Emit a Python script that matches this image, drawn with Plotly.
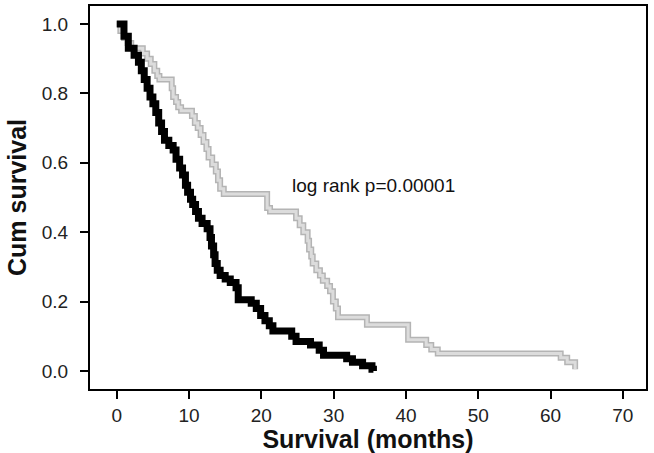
import plotly.graph_objects as go

# Kaplan-Meier step data (time in months, cumulative survival)
black_t = [0, 1.0, 1.6, 2.4, 3.0, 3.4, 3.8, 4.2, 4.6, 5.0, 5.4, 5.8, 6.2, 6.6, 7.2, 7.8,
           8.2, 8.7, 9.1, 9.5, 9.8, 10.2, 10.5, 10.9, 11.3, 11.8, 12.5, 12.9, 13.1, 13.4,
           13.6, 13.9, 14.3, 15.0, 15.7, 16.5, 16.8, 18.6, 19.3, 19.9, 20.5, 21.1, 21.6,
           24.2, 24.8, 26.8, 28.0, 28.6, 31.8, 32.6, 34.0, 35.3, 35.5]
black_s = [1.0, 0.965, 0.93, 0.91, 0.89, 0.865, 0.84, 0.815, 0.79, 0.77, 0.745, 0.715, 0.69,
           0.665, 0.65, 0.637, 0.61, 0.585, 0.565, 0.535, 0.515, 0.495, 0.48, 0.46, 0.44,
           0.425, 0.41, 0.385, 0.36, 0.335, 0.31, 0.29, 0.275, 0.265, 0.255, 0.24, 0.205,
           0.195, 0.18, 0.16, 0.145, 0.13, 0.115, 0.1, 0.085, 0.075, 0.06, 0.045, 0.035,
           0.025, 0.015, 0.005, 0.0]

gray_t = [0, 0.5, 1.0, 1.5, 2.0, 3.6, 4.2, 4.7, 5.2, 5.6, 5.9, 7.6, 7.8, 8.2, 8.5, 8.9,
          10.4, 10.8, 11.2, 11.6, 12.0, 12.4, 12.7, 13.2, 13.7, 14.0, 14.3, 14.8, 20.8,
          21.2, 24.8, 25.3, 25.8, 26.4, 26.6, 26.9, 27.1, 27.6, 28.1, 28.5, 29.1, 29.5,
          29.9, 30.3, 30.6, 34.6, 40.3, 42.8, 43.5, 44.4, 61.4, 62.3, 63.4]
gray_s = [1.0, 0.98, 0.96, 0.945, 0.93, 0.915, 0.9, 0.885, 0.865, 0.85, 0.84, 0.815, 0.79,
          0.775, 0.76, 0.75, 0.735, 0.715, 0.7, 0.68, 0.66, 0.64, 0.615, 0.595, 0.575,
          0.55, 0.525, 0.51, 0.47, 0.46, 0.44, 0.42, 0.4, 0.375, 0.35, 0.33, 0.31, 0.29,
          0.275, 0.26, 0.245, 0.23, 0.2, 0.18, 0.155, 0.133, 0.09, 0.075, 0.062, 0.05,
          0.038, 0.025, 0.005]

x_ticks = [0, 10, 20, 30, 40, 50, 60, 70]
y_ticks = [0.0, 0.2, 0.4, 0.6, 0.8, 1.0]
annotation_text = "log rank p=0.00001"

FONT = "Liberation Sans, Arial, sans-serif"

fig = go.Figure()
# gray curve drawn as outlined light line
fig.add_trace(go.Scatter(x=gray_t, y=gray_s, mode="lines", line=dict(shape="hv", color="#b4b4b4", width=6),
                         showlegend=False, hoverinfo="skip"))
fig.add_trace(go.Scatter(x=gray_t, y=gray_s, mode="lines", line=dict(shape="hv", color="#dcdcdc", width=3),
                         showlegend=False, hoverinfo="skip"))
fig.add_trace(go.Scatter(x=black_t, y=black_s, mode="lines", line=dict(shape="hv", color="#000000", width=7),
                         showlegend=False, hoverinfo="skip"))

fig.add_annotation(x=24, y=0.535, text=annotation_text, showarrow=False, xanchor="left", yanchor="middle",
                   font=dict(family=FONT, size=19, color="#111111"))

axis_common = dict(showline=True, linecolor="black", linewidth=2, mirror=True, ticks="outside",
                   ticklen=8, tickwidth=2, tickcolor="black", showgrid=False, zeroline=False,
                   automargin=False,
                   tickfont=dict(family=FONT, size=19, color="#222222"))

fig.update_xaxes(range=[-3.7, 73.2], tickvals=x_ticks, ticklabelstandoff=0,
                 title=dict(text="<b>Survival (months)</b>", font=dict(family=FONT, size=25, color="#111111"), standoff=2),
                 **axis_common)
fig.update_yaxes(range=[-0.052, 1.052], tickvals=y_ticks, tickformat=".1f", ticklabelstandoff=8,
                 title=dict(text="<b>Cum survival</b>", font=dict(family=FONT, size=25, color="#111111"), standoff=8),
                 **axis_common)

fig.update_layout(width=654, height=453, margin=dict(l=90, r=8, t=6, b=64),
                  plot_bgcolor="white", paper_bgcolor="white")

fig.write_html("out.html", config={"displayModeBar": False, "staticPlot": True},
               post_script="document.body.style.margin='0';document.body.style.overflow='hidden';")
